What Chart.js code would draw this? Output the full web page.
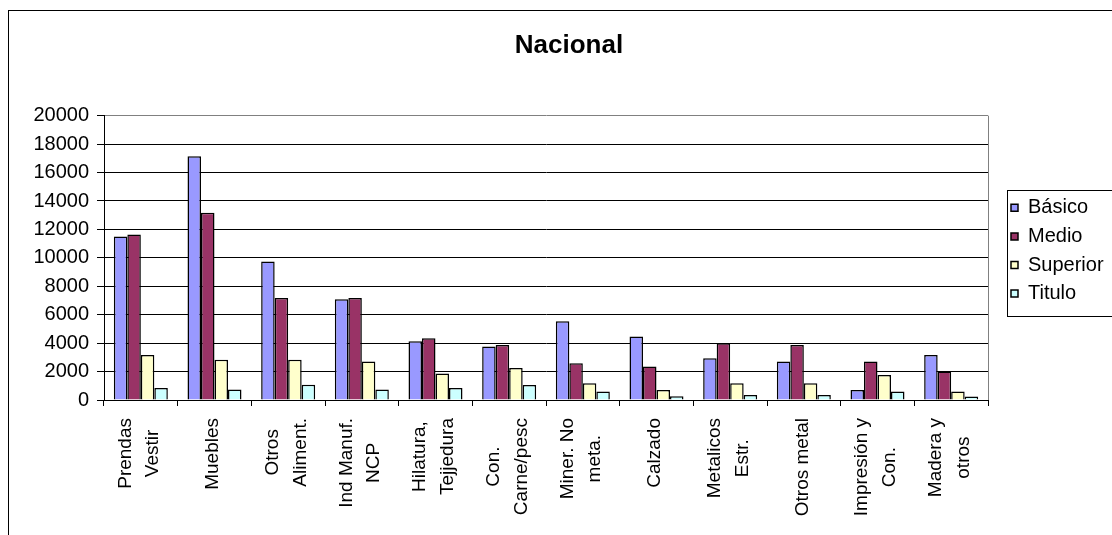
<!DOCTYPE html>
<html>
<head>
<meta charset="utf-8">
<script src="https://cdn.jsdelivr.net/npm/chart.js@4.4.1/dist/chart.umd.min.js"></script>
<style>
  html, body { margin: 0; padding: 0; background: #fff; overflow: hidden; width: 1112px; height: 535px; }
  #frame { position: absolute; left: 8px; top: 10px; width: 1200px; height: 600px; border: 1px solid #000; background: #fff; }
  canvas { display: block; }
</style>
</head>
<body>
<div id="frame"><canvas id="c" width="1120" height="530"></canvas></div>
<script>
const categories = [
  ['Prendas', 'Vestir'], 'Muebles', ['Otros', 'Aliment.'], ['Ind Manuf.', 'NCP'],
  ['Hilatura,', 'Tejjedura'], ['Con.', 'Carne/pesc'], ['Miner. No', 'meta.'], 'Calzado',
  ['Metalicos', 'Estr.'], 'Otros metal', ['Impresión y', 'Con.'], ['Madera y', 'otros']
];
const seriesNames = ['Básico', 'Medio', 'Superior', 'Titulo'];
const basico   = [11500, 17150, 9750, 7080, 4130, 3760, 5540, 4460, 2930, 2700, 710, 3170];
const medio    = [11650, 13180, 7180, 7180, 4340, 3870, 2580, 2350, 3990, 3870, 2700, 2000];
const superior = [3170, 2840, 2840, 2700, 1860, 2250, 1180, 710, 1180, 1180, 1760, 590];
const titulo   = [840, 730, 1080, 730, 850, 1060, 590, 260, 350, 350, 590, 240];
const yTicks = [0, 2000, 4000, 6000, 8000, 10000, 12000, 14000, 16000, 18000, 20000];
const colors = ['#9999FF', '#993366', '#FFFFCC', '#CCFFFF'];

const FONT = "'Liberation Sans', Arial, sans-serif";
const X_FONT_SIZE = 19;
const X_LINE_GAP = 27.5;

const legendFrame = {
  id: 'legendFrame',
  afterLayout(chart) {
    const l = chart.legend, a = chart.chartArea;
    if (l) {
      const left = a.right + 14.4, top = a.top + 73.5;
      l.left = left; l.right = left + 200; l.width = 200;
      l.top = top; l.bottom = top + 128; l.height = 128;
    }
    const t = chart.titleBlock;
    if (t) { t.left = 0; t.right = chart.width; t.width = chart.width; }
  },
  afterDraw(chart) {
    const l = chart.legend, ctx = chart.ctx;
    ctx.save();
    ctx.strokeStyle = '#000';
    ctx.lineWidth = 1;
    ctx.strokeRect(Math.round(l.left + 4.3) + 0.5, Math.round(l.top + 0.8) + 0.5, 300, 126);
    ctx.restore();
  }
};

// Category labels: rotated, lines centred on each other, block hanging from the axis
const xLabels = {
  id: 'xLabels',
  afterDraw(chart) {
    const s = chart.scales.x, ctx = chart.ctx;
    ctx.save();
    ctx.fillStyle = '#000';
    ctx.font = X_FONT_SIZE + "px " + FONT;
    ctx.textAlign = 'center';
    ctx.textBaseline = 'middle';
    categories.forEach((lab, i) => {
      const lines = Array.isArray(lab) ? lab : [lab];
      const w = Math.max(...lines.map(t => ctx.measureText(t).width));
      const cx = s.getPixelForTick(i) - 1.5;
      const cy = s.top + 18 + w / 2;
      lines.forEach((t, k) => {
        ctx.save();
        ctx.translate(cx + (k - (lines.length - 1) / 2) * X_LINE_GAP, cy);
        ctx.rotate(-Math.PI / 2);
        ctx.fillText(t, 0, 0);
        ctx.restore();
      });
    });
    ctx.restore();
  }
};

new Chart(document.getElementById('c'), {
  type: 'bar',
  data: {
    labels: categories,
    datasets: [basico, medio, superior, titulo].map((d, i) => ({
      label: seriesNames[i],
      data: d,
      backgroundColor: colors[i],
      borderColor: '#000',
      borderWidth: 1.5,
      categoryPercentage: 0.733,
      barPercentage: 1.0
    }))
  },
  options: {
    responsive: false,
    animation: false,
    devicePixelRatio: 1,
    layout: { padding: { left: 0, right: 81, top: 0, bottom: 0 } },
    plugins: {
      title: {
        display: true,
        text: 'Nacional',
        color: '#000',
        font: { family: FONT, size: 26, weight: 'bold', lineHeight: 1.2 },
        padding: { top: 19, bottom: 54.5 }
      },
      legend: {
        display: true,
        position: 'right',
        align: 'start',
        maxWidth: 60,
        labels: {
          boxWidth: 7,
          boxHeight: 7,
          padding: 8.6,
          color: '#000',
          font: { family: FONT, size: 20 }
        }
      },
      tooltip: { enabled: false }
    },
    scales: {
      x: {
        type: 'category',
        offset: true,
        grid: {
          offset: true,
          drawOnChartArea: true,
          color: (c) => c.tick ? 'rgba(0,0,0,0)' : '#808080',
          tickColor: '#000',
          tickLength: 6,
          lineWidth: 1
        },
        border: { color: '#000', width: 1 },
        ticks: { display: false, autoSkip: false },
        afterFit: (s) => { s.height = 141; }
      },
      y: {
        min: 0,
        max: 20000,
        afterBuildTicks: (s) => { s.ticks = yTicks.map(v => ({ value: v })); },
        grid: {
          color: (c) => (c.tick && c.tick.value === 20000) ? '#808080' : '#000',
          tickColor: '#000',
          tickLength: 7,
          lineWidth: 1
        },
        border: { color: '#000', width: 1 },
        ticks: {
          padding: 8,
          color: '#000',
          font: { family: FONT, size: 20 },
          callback: (v) => String(v)
        },
        afterFit: (s) => { s.width = 95; }
      }
    }
  },
  plugins: [legendFrame, xLabels]
});
</script>
</body>
</html>
